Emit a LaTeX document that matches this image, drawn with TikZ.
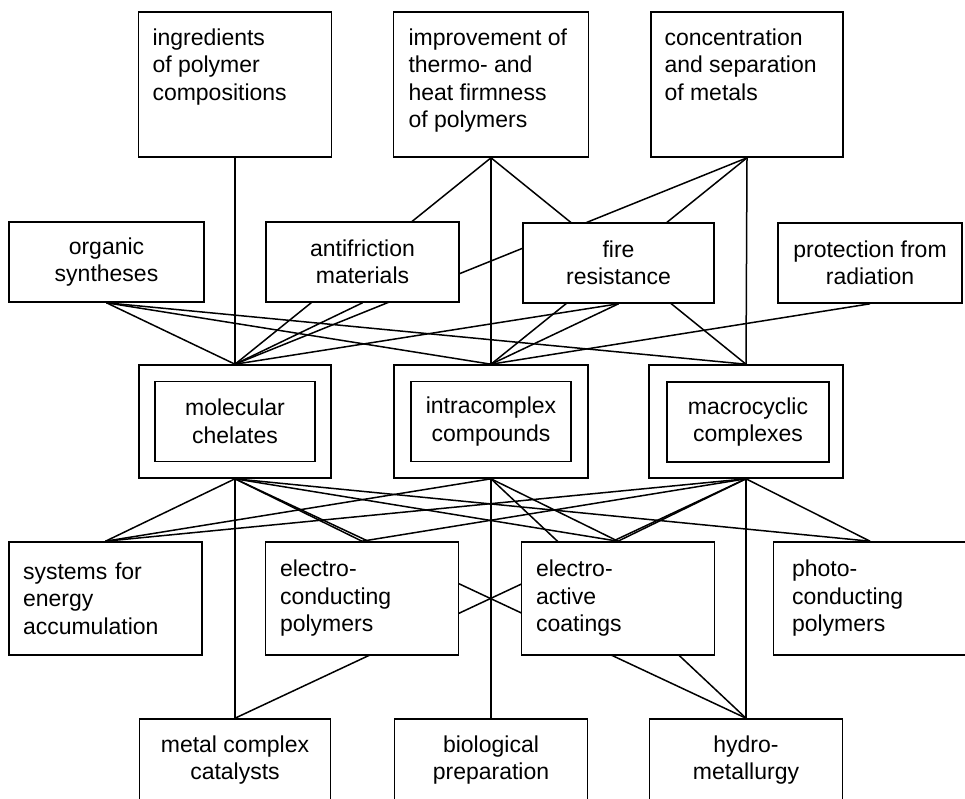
\documentclass[tikz,border=0pt]{standalone}
\usepackage{fontspec}
\setmainfont{Liberation Sans}
\usetikzlibrary{backgrounds}
\newcommand{\toptext}[1]{\parbox[c][112pt][t]{165pt}{\raggedright #1}}

\begin{document}
\begin{tikzpicture}[x=1pt,y=-1pt,line width=1.6pt,
  font=\fontsize{23}{27.5}\selectfont,
  box/.style={draw,fill=white,inner sep=0pt,minimum width=193pt},
  topbox/.style={box,minimum height=145pt},
  midbox/.style={box,minimum height=80pt,align=center},
  cmpbox/.style={box,minimum height=113pt},
  inbox/.style={box,minimum width=160pt,minimum height=80pt,align=center},
  appbox/.style={box,minimum height=113pt,align=left,text width=165pt,inner xsep=14pt},
  endbox/.style={box,minimum height=82pt,align=center},
  link/.style={line width=1.5pt}]
 \useasboundingbox (0,0) rectangle (965,798);
 \node[topbox] (ingr) at (235,84.5) {\toptext{ingredients\\of polymer\\compositions}};
 \node[topbox,minimum width=195pt] (impr) at (491,84.5)
  {\toptext{improvement of\\thermo- and\\heat firmness\\of polymers}};
 \node[topbox,minimum width=192pt] (conc) at (747,84.5)
  {\toptext{concentration\\and separation\\of metals}};
 \node[midbox,minimum width=195pt] (org) at (106.5,262) {organic\\syntheses};
 \node[midbox] (anti) at (362.5,262) {antifriction\\materials};
 \node[midbox,minimum width=191pt] (fire) at (618.5,263) {fire\\resistance};
 \node[midbox,minimum width=184pt] (prot) at (870,263) {protection from\\radiation};
 \node[cmpbox,minimum width=192pt] (mol) at (235,421.5) {};
 \node[inbox] (molin) at (mol) {molecular\\chelates};
 \node[cmpbox,minimum width=194pt] (intra) at (491,421.5) {};
 \node[inbox] (intrain) at (intra) {intracomplex\\compounds};
 \node[cmpbox,minimum width=194pt] (macro) at (746,421.5) {};
 \node[inbox,minimum width=162pt] (macroin) at (748,422) {macrocyclic\\complexes};
 \node[appbox] (sys) at (105.5,598.5) {systems for\\energy\\accumulation};
 \node[appbox,text width=164pt] (econd) at (362,598.5) {electro-\\conducting\\polymers};
 \node[appbox,text width=164pt] (eact) at (618,598.5) {electro-\\active\\coatings};
 \node[appbox,text width=156pt] (photo) at (870,598.5) {photo-\\conducting\\polymers};
 \node[endbox,minimum width=191pt] (metal) at (235,760) {metal complex\\catalysts};
 \node[endbox] (bio) at (491,760) {biological\\preparation};
 \node[endbox] (hydro) at (746,760) {hydro-\\metallurgy};
 \begin{scope}[on background layer]
  \draw[link] (ingr.south) -- (mol.north);
  \foreach \t in {mol,intra,macro} {
   \draw[link] (impr.south) -- (\t.north);
   \draw[link] (conc.south) -- (\t.north);
   \draw[link] (org.south) -- (\t.north);
  }
  \draw[link] (anti.south) -- (mol.north);
  \draw[link] (fire.south) -- (mol.north);
  \draw[link] (fire.south) -- (intra.north);
  \draw[link] (prot.south) -- (intra.north);
  \foreach \t in {sys,econd,eact,photo,hydro,metal}
   \draw[link] (mol.south) -- (\t.north);
  \foreach \t in {sys,eact,hydro,bio}
   \draw[link] (intra.south) -- (\t.north);
  \foreach \t in {sys,econd,eact,photo,metal,hydro}
   \draw[link] (macro.south) -- (\t.north);
 \end{scope}
\end{tikzpicture}
\end{document}
